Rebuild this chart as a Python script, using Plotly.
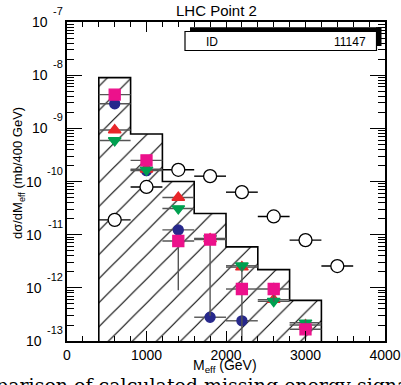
import plotly.graph_objects as go
import numpy as np

# ---------------- data ----------------
bin_edges = [400, 800, 1200, 1600, 2000, 2400, 2800, 3200]
hist_heights = [9.0e-9, 7.8e-10, 1.0e-10, 2.5e-11, 5.9e-12, 2.2e-12, 5.8e-13]

x_centers = [600, 1000, 1400, 1800, 2200, 2600, 3000, 3400]
open_vals = [1.9e-11, 7.9e-11, 1.66e-10, 1.26e-10, 6.3e-11, 2.2e-11, 7.9e-12, 2.57e-12]

x_blue = [600, 1000, 1400, 1800, 2200]
blue_vals = [2.9e-9, 1.6e-10, 1.23e-11, 2.8e-13, 2.4e-13]

x_red = [600, 1000, 1400, 1800, 2200, 2600, 3000]
red_vals = [9.3e-10, 1.7e-10, 5.0e-11, 8.3e-12, 2.45e-12, 6.0e-13, 2.0e-13]

x_green = [600, 1000, 1400, 1800, 2200, 2600, 3000]
green_vals = [5.9e-10, 1.65e-10, 3.1e-11, 8.5e-12, 2.6e-12, 5.6e-13, 2.2e-13]

x_mag = [600, 1000, 1400, 1800, 2200, 2600, 3000]
mag_vals = [4.3e-9, 2.5e-10, 7.6e-12, 8.1e-12, 9.5e-13, 9.5e-13, 1.66e-13]
mag_err_lo = [0.4e-9, 0.3e-10, 6.7e-12, 7.8e-12, 9.4e-13, 4.0e-13, 0.6e-13]
mag_err_hi = [0.5e-9, 0.3e-10, 1.5e-12, 2.0e-12, 1.5e-12, 3.0e-13, 0.8e-13]

x_tick_vals = [0, 1000, 2000, 3000, 4000]
y_exponents = [-7, -8, -9, -10, -11, -12, -13]

bin_half_width = 200

# ---------------- layout geometry ----------------
W, H = 401, 385
L, R, T, B = 67, 16, 22, 44
PW = W - L - R
PH = H - T - B

def px(xp):
    return (xp - L) / PW

def py(yp):
    return (H - B - yp) / PH

fig = go.Figure()

# hatched histogram fill
widths = [bin_edges[i + 1] - bin_edges[i] for i in range(len(hist_heights))]
centers = [(bin_edges[i] + bin_edges[i + 1]) / 2 for i in range(len(hist_heights))]
fig.add_trace(go.Bar(
    x=centers, y=hist_heights, width=widths, base=1e-14,
    marker=dict(color="white", line=dict(width=0),
                pattern=dict(shape="/", fgcolor="black", bgcolor="white", fgopacity=1,
                             size=17, solidity=0.065)),
    showlegend=False, hoverinfo="skip"))

# histogram outline (step)
ylo = 1e-13
sx, sy = [bin_edges[0]], [ylo]
for i, h in enumerate(hist_heights):
    sx += [bin_edges[i], bin_edges[i + 1]]
    sy += [h, h]
sx.append(bin_edges[-1]); sy.append(ylo)
fig.add_trace(go.Scatter(x=sx, y=sy, mode="lines",
                         line=dict(color="black", width=1.6),
                         showlegend=False, hoverinfo="skip"))

err_col = "#555555"

def series(xs, ys, sym, col, size, line_col=None, fill=None, ey=None):
    fig.add_trace(go.Scatter(
        x=xs, y=ys, mode="markers",
        marker=dict(symbol=sym, size=size, color=fill if fill else col,
                    line=dict(color=line_col if line_col else col, width=1.3)),
        error_x=dict(type="constant", value=bin_half_width, color=err_col if line_col is None else "black",
                     thickness=1.4, width=0),
        error_y=ey if ey else dict(visible=False),
        showlegend=False))

series(x_centers, open_vals, "circle", "black", 13, line_col="black", fill="white",
       ey=dict(type="percent", value=18, color="black", thickness=1.3, width=0))
series(x_blue, blue_vals, "circle", "#27288c", 10)
series(x_red, red_vals, "triangle-up", "#e8262a", 11)
series(x_green, green_vals, "triangle-down", "#00a050", 11)
series(x_mag, mag_vals, "square", "#ec118b", 11,
       ey=dict(type="data", array=mag_err_hi, arrayminus=mag_err_lo, symmetric=False,
               color=err_col, thickness=1.4, width=0))

axis_common = dict(showline=True, linecolor="black", linewidth=1.6, mirror="ticks",
                   ticks="inside", tickcolor="black", showgrid=False, zeroline=False,
                   automargin=False)

fig.update_xaxes(range=[0, 4000], tickvals=x_tick_vals, ticklen=10, tickwidth=1.2,
                 minor=dict(dtick=200, tick0=0, ticks="inside", ticklen=5, tickcolor="black", tickwidth=1),
                 tickfont=dict(family="Liberation Sans, Arial", size=14, color="black"),
                 **axis_common)

minor_vals = [m * 10.0 ** e for e in range(-14, -6) for m in range(2, 10)]
fig.update_yaxes(type="log", range=[-13, -7], tickvals=[10.0 ** e for e in y_exponents],
                 showticklabels=False, ticklen=15, tickwidth=1.2,
                 minor=dict(tickvals=minor_vals, ticks="inside", ticklen=7, tickcolor="black", tickwidth=1),
                 **axis_common)

annotations = []
# y tick labels as 10^n
for e in y_exponents:
    es = str(e)
    ew = sum(3.7 if c == "-" else 6.1 for c in es)
    annotations.append(dict(xref="paper", yref="y", x=px(65), y=e, text=es, showarrow=False,
                            xanchor="right", yanchor="middle", yshift=11,
                            font=dict(family="Liberation Sans, Arial", size=11, color="black")))
    annotations.append(dict(xref="paper", yref="y", x=px(65 - ew - 5), y=e, text="10", showarrow=False,
                            xanchor="right", yanchor="middle",
                            font=dict(family="Liberation Sans, Arial", size=14, color="black")))

# x axis title
annotations.append(dict(xref="paper", yref="paper", x=px(225), y=py(366),
                        text="M<sub>eff</sub> (GeV)", showarrow=False,
                        xanchor="center", yanchor="middle",
                        font=dict(family="Liberation Sans, Arial", size=14, color="black")))
# y axis title
annotations.append(dict(xref="paper", yref="paper", x=px(18), y=py(173),
                        text="dσ/dM<sub>eff</sub> (mb/400 GeV)", textangle=-90, showarrow=False,
                        xanchor="center", yanchor="middle",
                        font=dict(family="Liberation Sans, Arial", size=13, color="black")))
# title
annotations.append(dict(xref="paper", yref="paper", x=px(216), y=py(10), text="LHC Point 2",
                        showarrow=False, xanchor="center", yanchor="middle",
                        font=dict(family="Liberation Sans, Arial", size=15, color="black")))
# stat box text
annotations.append(dict(xref="paper", yref="paper", x=px(204), y=py(41.5), text="ID",
                        showarrow=False, xanchor="left", yanchor="middle",
                        font=dict(family="Liberation Sans, Arial", size=12, color="black")))
annotations.append(dict(xref="paper", yref="paper", x=px(368), y=py(41.5), text="11147",
                        showarrow=False, xanchor="right", yanchor="middle",
                        font=dict(family="Liberation Sans, Arial", size=12, color="black")))
# caption (cut off at bottom of page, as in the reference)
annotations.append(dict(xref="paper", yref="paper", x=px(-50), y=py(372),
                        text="Comparison of calculated missing energy signatures",
                        showarrow=False, xanchor="left", yanchor="top",
                        font=dict(family="DejaVu Serif, serif", size=19, color="black")))

shapes = [
    dict(type="rect", xref="paper", yref="paper", x0=px(190), x1=px(381), y0=py(32), y1=py(27.3),
         fillcolor="black", line=dict(width=0)),
    dict(type="rect", xref="paper", yref="paper", x0=px(376), x1=px(381.5), y0=py(46), y1=py(27.3),
         fillcolor="black", line=dict(width=0)),
    dict(type="rect", xref="paper", yref="paper", x0=px(185), x1=px(376.5), y0=py(50.5), y1=py(31.5),
         fillcolor="white", line=dict(color="black", width=1.2)),
]

fig.update_layout(width=W, height=H, margin=dict(l=L, r=R, t=T, b=B),
                  plot_bgcolor="white", paper_bgcolor="white",
                  bargap=0, showlegend=False,
                  annotations=annotations, shapes=shapes)

fig.write_html("out.html", config={"displayModeBar": False},
               post_script="document.body.style.margin='0px';document.body.style.overflow='hidden';")
